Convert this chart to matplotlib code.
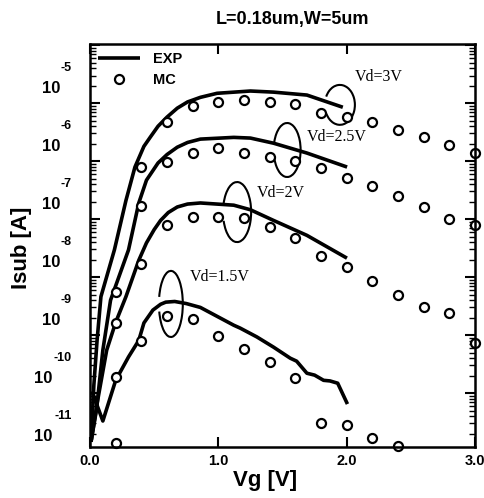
import matplotlib
matplotlib.use('Agg')
import matplotlib.pyplot as plt
from matplotlib import transforms
from matplotlib.patches import Arc
from matplotlib.ticker import LogLocator, NullFormatter, NullLocator

plt.rcParams['font.family'] = ['Liberation Sans', 'DejaVu Sans']
plt.rcParams['font.weight'] = 'bold'

# MC points (Vg step 0.2 V)
vg_mc = [0.2, 0.4, 0.6, 0.8, 1.0, 1.2, 1.4, 1.6, 1.8, 2.0, 2.2, 2.4, 2.6, 2.8, 3.0]
mc_3v = [5.5e-9, 7.9e-7, 4.7e-6, 8.9e-6, 1.05e-5, 1.12e-5, 1.05e-5, 9.5e-6, 6.9e-6,
         5.8e-6, 4.7e-6, 3.4e-6, 2.6e-6, 1.9e-6, 1.4e-6]
mc_25v = [1.6e-9, 1.7e-7, 9.5e-7, 1.4e-6, 1.7e-6, 1.4e-6, 1.2e-6, 1.0e-6, 7.6e-7,
          5.1e-7, 3.7e-7, 2.5e-7, 1.6e-7, 1.0e-7, 7.9e-8]
mc_2v = [1.9e-10, 1.7e-8, 7.9e-8, 1.1e-7, 1.1e-7, 1.05e-7, 7.2e-8, 4.7e-8, 2.3e-8,
         1.5e-8, 8.5e-9, 4.9e-9, 3.0e-9, 2.4e-9, 7.2e-10]
vg_mc15 = [0.2, 0.4, 0.6, 0.8, 1.0, 1.2, 1.4, 1.6, 1.8, 2.0, 2.2, 2.4]
mc_15v = [1.4e-11, 7.9e-10, 2.1e-9, 1.9e-9, 9.5e-10, 5.8e-10, 3.4e-10, 1.8e-10,
          3.0e-11, 2.8e-11, 1.7e-11, 1.2e-11]

# EXP curves
vg_3v = [0.01, 0.03, 0.055, 0.085, 0.19, 0.28, 0.35, 0.42, 0.47, 0.53, 0.60, 0.68,
         0.76, 0.86, 0.99, 1.25, 1.43, 1.69, 1.97]
exp_3v = [1.55e-11, 1.38e-10, 8.1e-10, 4.6e-9, 2.95e-8, 2.1e-7, 7.9e-7, 1.8e-6,
          2.6e-6, 4.0e-6, 5.75e-6, 8.2e-6, 1.05e-5, 1.26e-5, 1.48e-5, 1.62e-5,
          1.55e-5, 1.38e-5, 8.5e-6]
vg_25v = [0.01, 0.05, 0.10, 0.16, 0.30, 0.38, 0.44, 0.53, 0.60, 0.68, 0.76, 0.86,
          1.12, 1.25, 1.43, 1.69, 1.99]
exp_25v = [1.55e-11, 5.1e-11, 5.5e-10, 4.0e-9, 2.95e-8, 1.9e-7, 4.7e-7, 9.3e-7,
           1.3e-6, 1.74e-6, 2.1e-6, 2.4e-6, 2.57e-6, 2.5e-6, 2.04e-6, 1.38e-6, 8.1e-7]
vg_2v = [0.01, 0.06, 0.13, 0.20, 0.28, 0.38, 0.44, 0.50, 0.55, 0.61, 0.68, 0.76,
         0.86, 1.12, 1.25, 1.43, 1.69, 1.99]
exp_2v = [1.55e-11, 7.6e-11, 5.5e-10, 1.66e-9, 4.6e-9, 1.95e-8, 3.9e-8, 6.6e-8,
          9.5e-8, 1.3e-7, 1.62e-7, 1.82e-7, 1.9e-7, 1.74e-7, 1.45e-7, 9.5e-8,
          5.25e-8, 2.2e-8]
vg_15v = [0.02, 0.10, 0.20, 0.30, 0.38, 0.42, 0.49, 0.55, 0.59, 0.66, 0.75, 0.86,
          1.12, 1.17, 1.30, 1.43, 1.56, 1.61, 1.69, 1.75, 1.82, 1.87, 1.93, 2.0]
exp_15v = [1.0e-10, 3.3e-11, 1.66e-10, 4.2e-10, 8.1e-10, 1.62e-9, 2.7e-9, 3.4e-9,
           3.7e-9, 3.8e-9, 3.5e-9, 3.0e-9, 1.48e-9, 1.32e-9, 9.3e-10, 6.2e-10,
           4.0e-10, 3.55e-10, 2.2e-10, 2.04e-10, 1.66e-10, 1.62e-10, 1.48e-10, 6.9e-11]

exponents = [-5, -6, -7, -8, -9, -10, -11]

fig = plt.figure(figsize=(4.85, 4.98), dpi=100)
ax = fig.add_axes([0.1856, 0.1024, 0.7938, 0.8092])

lw = 2.6
ax.plot(vg_3v, exp_3v, 'k-', lw=lw, label='EXP', solid_capstyle='butt', solid_joinstyle='round')
ax.plot(vg_25v, exp_25v, 'k-', lw=lw, solid_joinstyle='round')
ax.plot(vg_2v, exp_2v, 'k-', lw=lw, solid_joinstyle='round')
ax.plot(vg_15v, exp_15v, 'k-', lw=lw, solid_joinstyle='round')

mk = dict(ls='none', marker='o', ms=6.5, mfc='white', mec='black', mew=1.6, clip_on=False)
ax.plot(vg_mc, mc_3v, label='MC', **mk)
ax.plot(vg_mc, mc_25v, **mk)
ax.plot(vg_mc, mc_2v, **mk)
ax.plot(vg_mc15, mc_15v, **mk)

ax.set_yscale('log')
ax.set_xlim(0, 3.0)
ax.set_ylim(10 ** -10.93, 10 ** -3.98)
ax.set_xticks([0, 1, 2, 3])
ax.set_xticklabels(['0.0', '1.0', '2.0', '3.0'], fontsize=10.5, fontweight='bold')
ax.xaxis.set_minor_locator(NullLocator())
ax.yaxis.set_major_locator(LogLocator(base=10, numticks=20))
ax.yaxis.set_minor_locator(LogLocator(base=10, subs=range(2, 10), numticks=20))
ax.yaxis.set_major_formatter(NullFormatter())
ax.yaxis.set_minor_formatter(NullFormatter())
ax.tick_params(which='both', direction='in', top=True, right=True)
ax.tick_params(which='major', length=7, width=1.5, pad=5)
ax.tick_params(which='minor', length=4, width=1.0)
for s in ax.spines.values():
    s.set_linewidth(1.8)

# y tick labels sit above their ticks in the original
blend = transforms.blended_transform_factory(ax.transAxes, ax.transData)
base_tr = transforms.offset_copy(blend, fig=fig, x=0, y=15, units='dots')
exp_tr = transforms.offset_copy(blend, fig=fig, x=0, y=35, units='dots')
for e in exponents:
    xb = -0.078 if e > -10 else -0.099
    ax.text(xb, 10.0 ** e, '10', transform=base_tr, ha='right', va='center',
            fontsize=12, fontweight='bold')
    ax.text(-0.047, 10.0 ** e, str(e), transform=exp_tr, ha='right', va='center',
            fontsize=9, fontweight='bold')

leg = ax.legend(loc='upper left', frameon=False, fontsize=10.5, handlelength=2.9,
                handletextpad=0.9, borderaxespad=0.15, borderpad=0.4,
                labelspacing=0.5, numpoints=1)
for t in leg.get_texts():
    t.set_fontweight('bold')

# loops and Vd labels
loops = [(0.649, 0.849, 0.078, 0.099), (0.512, 0.737, 0.070, 0.134),
         (0.382, 0.583, 0.073, 0.149), (0.210, 0.355, 0.062, 0.164)]
for cx, cy, w, h in loops:
    ax.add_patch(Arc((cx, cy), w, h, theta1=-148, theta2=150, transform=ax.transAxes,
                     color='black', lw=1.5))
vd_labels = [('Vd=3V', 0.751, 0.918), ('Vd=2.5V', 0.642, 0.769),
             ('Vd=2V', 0.496, 0.630), ('Vd=1.5V', 0.338, 0.422)]
for txt, tx, ty in vd_labels:
    ax.text(tx, ty, txt, transform=ax.transAxes, ha='center', va='center',
            fontsize=11.5, family='Liberation Serif', fontweight='normal')

fig.text(0.604, 0.96, 'L=0.18um,W=5um', ha='center', va='center', fontsize=13, fontweight='bold')
fig.text(0.045, 0.502, 'Isub [A]', rotation=90, ha='center', va='center', fontsize=16, fontweight='bold')
fig.text(0.546, 0.036, 'Vg [V]', ha='center', va='center', fontsize=16, fontweight='bold')

fig.savefig('out.png', dpi=100)
